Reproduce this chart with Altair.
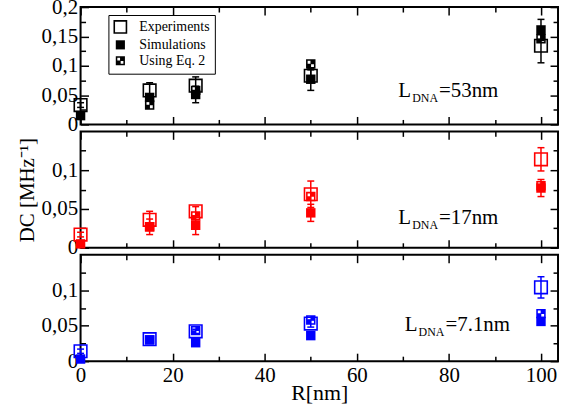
import altair as alt
import pandas as pd

SERIF = "Liberation Serif"

# ---------------- data ----------------
R = [0, 15, 25, 50, 100]
SERIES = ["Experiments", "Simulations", "Using Eq. 2"]

# L_DNA = 53 nm (black)
exp_53 = [0.033, 0.058, 0.066, 0.083, 0.134]
exp_53_err = [0.004, 0.013, 0.015, 0.010, 0.029]
sim_53 = [0.015, 0.046, 0.051, 0.077, 0.161]
sim_53_err = [0.003, 0.005, 0.014, 0.019, 0.018]
eq2_53 = [None, 0.033, 0.058, 0.103, 0.146]

# L_DNA = 17 nm (red)
exp_17 = [0.017, 0.036, 0.047, 0.069, 0.114]
exp_17_err = [0.003, 0.011, 0.006, 0.017, 0.015]
sim_17 = [0.005, 0.027, 0.029, 0.045, 0.077]
sim_17_err = [0.002, 0.010, 0.012, 0.011, 0.011]
eq2_17 = [None, 0.027, 0.041, 0.066, 0.080]

# L_DNA = 7.1 nm (blue)
exp_7 = [0.014, 0.031, 0.042, 0.053, 0.104]
exp_7_err = [0.003, 0.003, 0.003, 0.005, 0.015]
sim_7 = [0.003, 0.030, 0.026, 0.036, 0.056]
sim_7_err = [0.002, 0.002, 0.004, 0.004, 0.004]
eq2_7 = [None, 0.030, 0.043, 0.058, 0.067]

ANN_TEXT = ["=53nm", "=17nm", "=7.1nm"]
ANN_R = [69.0, 69.0, 70.4]
ANN_V = [0.046, 0.031, 0.043]

X_MAJOR = [0, 20, 40, 60, 80, 100]
X_MINOR = [10, 30, 50, 70, 90]
X_MAX = 103.7
W = 480

SIM_PATH = "M-0.75,-0.75H0.75V0.75H-0.75Z"
EQ2_PATH = ("M-0.75,-0.75H0.75V0.75H-0.75Z "
            "M-0.5,-0.5V-0.05H-0.05V-0.5Z "
            "M0.05,0.05V0.5H0.5V0.05Z")


def points_df(exp, sim, eq2):
    rows = []
    for i, r in enumerate(R):
        rows.append({"R": r, "series": "Simulations", "v": sim[i]})
    for i, r in enumerate(R):
        if eq2[i] is not None:
            rows.append({"R": r, "series": "Using Eq. 2", "v": eq2[i]})
    for i, r in enumerate(R):
        rows.append({"R": r, "series": "Experiments", "v": exp[i]})
    return pd.DataFrame(rows)


def err_df(exp, exp_err, sim, sim_err):
    rows = []
    for i, r in enumerate(R):
        rows.append({"R": r, "lo": exp[i] - exp_err[i], "hi": exp[i] + exp_err[i]})
        rows.append({"R": r, "lo": sim[i] - sim_err[i], "hi": sim[i] + sim_err[i]})
    return pd.DataFrame(rows)


def caps_df(edf):
    return pd.DataFrame(
        [{"R": r, "c": c} for r, lo, hi in zip(edf["R"], edf["lo"], edf["hi"]) for c in (lo, hi)]
    )


def panel(idx, color, exp, exp_err, sim, sim_err, eq2, ymax, H,
          ylab, ymaj, ymin, bottom=False, ytitle=None, legend=False):
    xs = alt.Scale(domain=[0, X_MAX], nice=False, zero=False)
    ys = alt.Scale(domain=[0, ymax], nice=False, zero=False)
    pdf = points_df(exp, sim, eq2)
    edf = err_df(exp, exp_err, sim, sim_err)
    cdf = caps_df(edf)

    if bottom:
        xaxis = alt.Axis(orient="bottom", values=X_MAJOR, ticks=False, domain=False,
                         grid=False, labelFont=SERIF, labelFontSize=21, labelPadding=3,
                         labelColor="black", labelFlush=False, title="R[nm]",
                         titleFont=SERIF, titleFontSize=22, titleFontWeight="normal",
                         titleBaseline="alphabetic", titleY=39, titleColor="black")
    else:
        xaxis = None
    ykw = dict(orient="left", values=ylab, ticks=False, domain=False, grid=False,
               labelFont=SERIF, labelFontSize=21, labelPadding=3, labelColor="black",
               labelExpr="replace(toString(datum.value), '.', ',')")
    if ytitle:
        ykw.update(title=ytitle, titleFont=SERIF, titleFontSize=21,
                   titleFontWeight="normal", titlePadding=4, titleColor="black")
    else:
        ykw.update(title=None)
    yaxis = alt.Axis(**ykw)

    rules = alt.Chart(edf).mark_rule(color=color, strokeWidth=1.5).encode(
        x=alt.X("R:Q", scale=xs, axis=None),
        y=alt.Y("lo:Q", scale=ys, axis=None),
        y2="hi:Q",
    )
    caps = alt.Chart(cdf).mark_tick(orient="horizontal", color=color, size=7,
                                    thickness=1.5, opacity=1).encode(
        x=alt.X("R:Q", scale=xs, axis=None),
        y=alt.Y("c:Q", scale=ys, axis=None),
    )

    if legend:
        leg = alt.Legend(orient="none", legendX=28, legendY=8, title=None,
                         fillColor="white", strokeColor="black", padding=5,
                         rowPadding=0, labelFont=SERIF, labelFontSize=14,
                         labelColor="black", labelOffset=12, symbolStrokeWidth=1.6,
                         symbolSize=150)
    else:
        leg = None

    pts = alt.Chart(pdf).mark_point(filled=True, size=160, opacity=1, strokeWidth=1.6).encode(
        x=alt.X("R:Q", scale=xs, axis=xaxis),
        y=alt.Y("v:Q", scale=ys, axis=yaxis),
        shape=alt.Shape("series:N", scale=alt.Scale(domain=SERIES, range=["square", SIM_PATH, EQ2_PATH]), legend=leg),
        fill=alt.Fill("series:N", scale=alt.Scale(domain=SERIES, range=["transparent", color, color]), legend=leg),
        stroke=alt.Stroke("series:N", scale=alt.Scale(domain=SERIES, range=[color, "transparent", "transparent"]), legend=leg),
    )

    adf = pd.DataFrame({"R": [ANN_R[idx]], "v": [ANN_V[idx]], "rest": [ANN_TEXT[idx]]})
    enc = dict(x=alt.X("R:Q", scale=xs, axis=None), y=alt.Y("v:Q", scale=ys, axis=None))
    tL = alt.Chart(adf).mark_text(text="L", align="left", baseline="alphabetic",
                                  font=SERIF, fontSize=21, color="black").encode(**enc)
    tD = alt.Chart(adf).mark_text(text="DNA", align="left", baseline="alphabetic", dx=14, dy=5,
                                  font=SERIF, fontSize=12, color="black").encode(**enc)
    tR = alt.Chart(adf).mark_text(align="left", baseline="alphabetic", dx=41,
                                  font=SERIF, fontSize=21, color="black").encode(text="rest:N", **enc)

    def tick_layer(xorient, yorient, xvals, yvals, size):
        common = dict(labels=False, domain=False, grid=False, ticks=True, tickSize=size,
                      tickWidth=1.5, tickColor="black", title=None)
        return alt.Chart(pdf).mark_point(opacity=0).encode(
            x=alt.X("R:Q", scale=xs, axis=alt.Axis(orient=xorient, offset=-H, values=xvals, **common)),
            y=alt.Y("v:Q", scale=ys, axis=alt.Axis(orient=yorient, offset=-W, values=yvals, **common)),
        )

    t1 = tick_layer("top", "right", X_MAJOR, ymaj, 8)
    t2 = tick_layer("top", "right", X_MINOR, ymin, 5)
    t3 = tick_layer("bottom", "left", X_MAJOR, ymaj, 8)
    t4 = tick_layer("bottom", "left", X_MINOR, ymin, 5)

    return alt.layer(rules, caps, pts, tL, tD, tR, t1, t2, t3, t4).resolve_axis(
        x="independent", y="independent"
    ).properties(width=W, height=H)


p1 = panel(0, "black", exp_53, exp_53_err, sim_53, sim_53_err, eq2_53, 0.2, 118,
           [0, 0.05, 0.1, 0.15, 0.2], [0, 0.05, 0.1, 0.15, 0.2], [0.025, 0.075, 0.125, 0.175],
           legend=True)
p2 = panel(1, "red", exp_17, exp_17_err, sim_17, sim_17_err, eq2_17, 0.15, 117,
           [0, 0.05, 0.1], [0, 0.05, 0.1], [0.025, 0.075, 0.125],
           ytitle="DC [MHz\u207b\u00b9]")
p3 = panel(2, "blue", exp_7, exp_7_err, sim_7, sim_7_err, eq2_7, 0.15, 107,
           [0, 0.05, 0.1], [0, 0.05, 0.1], [0.025, 0.075, 0.125], bottom=True)

chart = alt.vconcat(p1, p2, p3, spacing=7, bounds="flush").resolve_scale(
    x="independent", y="independent", shape="independent", fill="independent",
    stroke="independent"
).properties(
    padding={"left": 15, "top": -6, "right": 1, "bottom": 2},
    background="white",
).configure_view(stroke="black", strokeWidth=2)

chart.save("out.html", embed_options={"renderer": "svg", "actions": False})
